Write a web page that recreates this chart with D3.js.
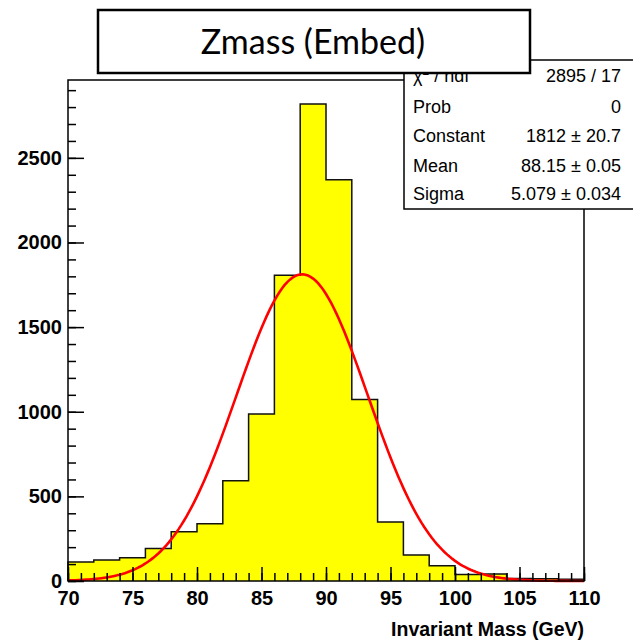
<!DOCTYPE html>
<html>
<head>
<meta charset="utf-8">
<script src="https://cdn.jsdelivr.net/npm/d3@7"></script>
<style>
  body { margin: 0; background: #fff; }
  svg { display: block; }
</style>
</head>
<body>
<div id="chart"></div>
<script>
// bins of 2 GeV from 70 to 110
const binEdges = [70, 72, 74, 76, 78, 80, 82, 84, 86, 88, 90, 92, 94, 96, 98, 100, 102, 104, 106, 108, 110];
const binCounts = [112, 124, 137, 192, 291, 338, 593, 987, 1807, 2818, 2370, 1072, 348, 153, 90, 39, 41, 15, 14, 11];

// gaussian fit parameters from the stats box
const fitConstant = 1812;
const fitMean = 88.15;
const fitSigma = 5.079;

const xMajorTicks = [70, 75, 80, 85, 90, 95, 100, 105, 110];
const yMajorTicks = [0, 500, 1000, 1500, 2000, 2500];

const statLabels = ["χ2 / ndf", "Prob", "Constant", "Mean", "Sigma"];
const statValues = ["2895 / 17", "0", "1812 ± 20.7", "88.15 ± 0.05", "5.079 ± 0.034"];

const titleText = "Zmass (Embed)";
const xTitle = "Invariant Mass (GeV)";

const W = 633, H = 641;
var margin = {top: 80, right: 49, bottom: 60, left: 68};
const width = W - margin.left - margin.right;
const height = H - margin.top - margin.bottom;

var svg = d3.select("#chart").append("svg")
    .attr("width", W)
    .attr("height", H);

var g = svg.append("g")
    .attr("transform", "translate(" + margin.left + "," + margin.top + ")");

var x = d3.scaleLinear().domain([70, 110]).range([0, width]);
var y = d3.scaleLinear().domain([0, 2960]).range([height, 0]);

// histogram as a step outline
var pts = [[binEdges[0], 0]];
binCounts.forEach(function(c, i) {
  pts.push([binEdges[i], c]);
  pts.push([binEdges[i + 1], c]);
});
pts.push([binEdges[binEdges.length - 1], 0]);

g.append("path")
  .datum(pts)
  .attr("fill", "#ffff00")
  .attr("stroke", "#111")
  .attr("stroke-width", 1.5)
  .attr("d", d3.line().x(function(d) { return x(d[0]); }).y(function(d) { return y(d[1]); }));

// fit curve
var curve = d3.range(70, 110.001, 0.2).map(function(v) {
  return [v, fitConstant * Math.exp(-0.5 * Math.pow((v - fitMean) / fitSigma, 2))];
});
g.append("path")
  .datum(curve)
  .attr("fill", "none")
  .attr("stroke", "#ff0000")
  .attr("stroke-width", 2.6)
  .attr("d", d3.line().x(function(d) { return x(d[0]); }).y(function(d) { return y(d[1]); }));

// axes, ticks drawn inward
var tickFont = "Liberation Sans, Arial, sans-serif";

var yMinor = g.append("g")
  .call(d3.axisLeft(y).tickValues(d3.range(0, 2960, 100)).tickSizeInner(-8).tickSizeOuter(0).tickFormat(""));
var yAx = g.append("g")
  .call(d3.axisLeft(y).tickValues(yMajorTicks).tickSizeInner(-16).tickSizeOuter(0).tickPadding(6).tickFormat(d3.format("d")));
var xMinor = g.append("g")
  .attr("transform", `translate(0, ${height})`)
  .call(d3.axisBottom(x).tickValues(d3.range(70, 111, 1)).tickSizeInner(-8).tickSizeOuter(0).tickFormat(""));
var xAx = g.append("g")
  .attr("transform", `translate(0, ${height})`)
  .call(d3.axisBottom(x).tickValues(xMajorTicks).tickSizeInner(-14).tickSizeOuter(0).tickPadding(10).tickFormat(d3.format("d")));

[yMinor, yAx, xMinor, xAx].forEach(function(a) {
  a.select(".domain").remove();
  a.selectAll("line").attr("stroke", "#000").attr("stroke-width", 1.5);
  a.selectAll("text")
    .attr("fill", "#000")
    .style("font-family", tickFont)
    .style("font-weight", "bold")
    .style("font-size", "20px");
});

// frame
g.append("rect")
  .attr("width", width)
  .attr("height", height)
  .attr("fill", "none")
  .attr("stroke", "#000")
  .attr("stroke-width", 1.5);

// x axis title
svg.append("text")
  .attr("x", margin.left + width)
  .attr("y", 636)
  .attr("text-anchor", "end")
  .style("font-family", tickFont)
  .style("font-weight", "bold")
  .style("font-size", "19.5px")
  .text(xTitle);

// stats box
var stats = svg.append("g");
stats.append("rect")
  .attr("x", 404).attr("y", 60)
  .attr("width", 240).attr("height", 149)
  .attr("fill", "#fff")
  .attr("stroke", "#000")
  .attr("stroke-width", 1.5);

var rowY = [82, 112.5, 142, 172, 200];
statLabels.forEach(function(l, i) {
  var t = stats.append("text")
    .attr("x", 413).attr("y", rowY[i])
    .style("font-family", tickFont)
    .style("font-size", "18px");
  if (i === 0) {
    t.append("tspan").text("χ");
    t.append("tspan").attr("dy", -7).style("font-size", "12px").text("2");
    t.append("tspan").attr("dy", 7).text(" / ndf");
  } else {
    t.text(l);
  }
  stats.append("text")
    .attr("x", 621).attr("y", rowY[i])
    .attr("text-anchor", "end")
    .style("font-family", tickFont)
    .style("font-size", "18px")
    .text(statValues[i]);
});

// title box on top
svg.append("rect")
  .attr("x", 98).attr("y", 10)
  .attr("width", 432).attr("height", 63)
  .attr("fill", "#fff")
  .attr("stroke", "#000")
  .attr("stroke-width", 2.5);

svg.append("text")
  .attr("x", 313)
  .attr("y", 54)
  .attr("text-anchor", "middle")
  .style("font-family", "Lato, 'Open Sans', sans-serif")
  .style("font-size", "34px")
  .text(titleText);
</script>
</body>
</html>
